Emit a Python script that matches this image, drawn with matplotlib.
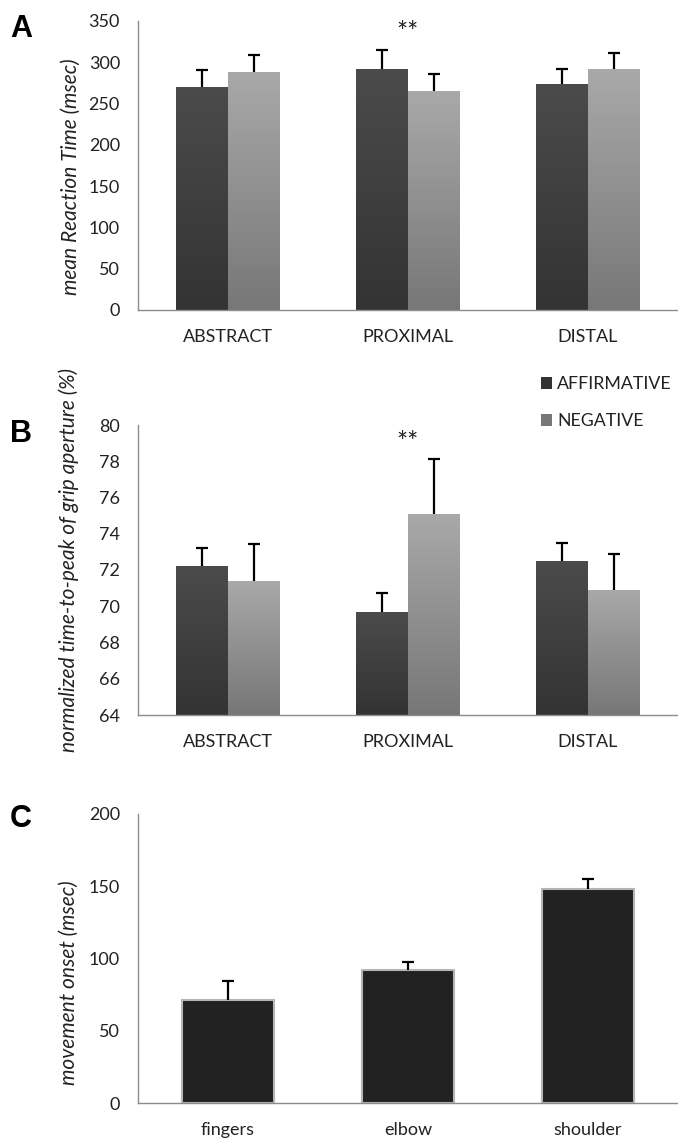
import numpy as np
import matplotlib
matplotlib.use("Agg")
import matplotlib.pyplot as plt
from matplotlib.colors import LinearSegmentedColormap
from matplotlib.patches import Patch

# ---------------- data ----------------
conditions = ["ABSTRACT", "PROXIMAL", "DISTAL"]
series_names = ["AFFIRMATIVE", "NEGATIVE"]

rt_aff = [270, 291, 273]
rt_aff_err = [20, 23, 18]
rt_neg = [288, 265, 291]
rt_neg_err = [21, 21, 20]

grip_aff = [72.2, 69.7, 72.5]
grip_aff_err = [1.03, 1.02, 1.0]
grip_neg = [71.4, 75.1, 70.9]
grip_neg_err = [2.04, 3.05, 2.0]

joints = ["fingers", "elbow", "shoulder"]
onset = [71.5, 92.2, 148.2]
onset_err = [12.7, 5.3, 6.7]

rt_ticks = [0, 50, 100, 150, 200, 250, 300, 350]
grip_ticks = [64, 66, 68, 70, 72, 74, 76, 78, 80]
onset_ticks = [0, 50, 100, 150, 200]

# ---------------- style ----------------
FONT = "Lato"
plt.rcParams["font.family"] = [FONT, "DejaVu Sans"]
TXT = "#222222"
AX_COL = "#8c8c8c"

AFF_TOP, AFF_BOT = "#4b4b4b", "#333333"
NEG_TOP, NEG_BOT = "#a9a9a9", "#777777"

W, H = 678, 1140
fig = plt.figure(figsize=(W / 100, H / 100), dpi=100)


def fx(px):
    return px / W


def fy(px):
    return 1 - px / H


def make_axes(top_px, bot_px):
    ax = fig.add_axes([fx(138), fy(bot_px), 1 - fx(138), (bot_px - top_px) / H])
    for s in ("top", "right"):
        ax.spines[s].set_visible(False)
    for s in ("left", "bottom"):
        ax.spines[s].set_color(AX_COL)
        ax.spines[s].set_linewidth(1.0)
    ax.tick_params(axis="both", length=0, labelsize=13, colors=TXT)
    ax.tick_params(axis="y", pad=13)
    ax.tick_params(axis="x", pad=14)
    ax.set_xlim(-0.5, 2.5)
    return ax


def gradient_fill(ax, bars, top_c, bot_c):
    cmap = LinearSegmentedColormap.from_list("g", [bot_c, top_c])
    ymin = ax.get_ylim()[0]
    grad = np.linspace(0, 1, 256).reshape(-1, 1)
    for b in bars:
        x0 = b.get_x()
        x1 = x0 + b.get_width()
        y0 = max(b.get_y(), ymin)
        y1 = b.get_y() + b.get_height()
        im = ax.imshow(grad, cmap=cmap, origin="lower", aspect="auto",
                       extent=[x0, x1, y0, y1], zorder=2, interpolation="bicubic")
        im.set_clip_path(b)
        b.set_facecolor("none")


def upper_err(ax, x, vals, errs):
    _, caps, _ = ax.errorbar(x, vals, yerr=[np.zeros(len(vals)), errs], fmt="none",
                             ecolor="black", elinewidth=1.6, capsize=4,
                             capthick=1.6, zorder=3)
    # hide the lower caps (zero-length lower error)
    caps[0].set_visible(False)


def grouped(ax, aff, aff_err, neg, neg_err, ylim, ticks):
    ax.set_ylim(*ylim)
    x = np.arange(len(conditions))
    w = 0.287
    b1 = ax.bar(x - w / 2, aff, w, color=AFF_TOP, linewidth=0, zorder=2,
                label=series_names[0])
    b2 = ax.bar(x + w / 2, neg, w, color=NEG_TOP, linewidth=0, zorder=2,
                label=series_names[1])
    gradient_fill(ax, b1, AFF_TOP, AFF_BOT)
    gradient_fill(ax, b2, NEG_TOP, NEG_BOT)
    upper_err(ax, x - w / 2, aff, aff_err)
    upper_err(ax, x + w / 2, neg, neg_err)
    ax.set_ylim(*ylim)
    ax.set_yticks(ticks)
    ax.set_xticks(x)
    ax.set_xticklabels(conditions)
    return b1, b2


# ---------------- Panel A ----------------
axA = make_axes(20.7, 310)
grouped(axA, rt_aff, rt_aff_err, rt_neg, rt_neg_err, (0, 350), rt_ticks)
axA.text(1, 334, "**", ha="center", va="center", fontsize=19, color=TXT)
fig.text(fx(71), fy(177), "mean Reaction Time (msec)", rotation=90,
         ha="center", va="center", fontsize=15, style="italic", color=TXT)
fig.text(fx(10), fy(37), "A", fontsize=22, fontweight="bold",
         family="Liberation Sans", color="black", ha="left", va="baseline")

# ---------------- Panel B ----------------
axB = make_axes(425, 715)
grouped(axB, grip_aff, grip_aff_err, grip_neg, grip_neg_err, (64, 80), grip_ticks)
axB.text(1, 79.0, "**", ha="center", va="center", fontsize=19, color=TXT)
fig.text(fx(69), fy(560), "normalized time-to-peak of grip aperture (%)",
         rotation=90, ha="center", va="center", fontsize=15, style="italic",
         color=TXT)
fig.text(fx(10), fy(442), "B", fontsize=22, fontweight="bold",
         family="Liberation Sans", color="black", ha="left", va="baseline")

handles = [Patch(facecolor=AFF_BOT, edgecolor="none"),
           Patch(facecolor=NEG_BOT, edgecolor="none")]
leg = fig.legend(handles, series_names, loc="upper left",
                 bbox_to_anchor=(fx(541), fy(376)), frameon=False,
                 fontsize=12.8, handlelength=0.62, handleheight=0.62,
                 handletextpad=0.28, labelspacing=1.2, borderpad=0,
                 borderaxespad=0)
for t in leg.get_texts():
    t.set_color(TXT)

# ---------------- Panel C ----------------
axC = make_axes(814, 1103)
axC.set_ylim(0, 200)
xc = np.arange(len(joints))
axC.bar(xc, onset, 0.51, color="#222222", edgecolor="#b5b5b5", linewidth=1.5,
        zorder=2)
upper_err(axC, xc, onset, onset_err)
axC.set_yticks(onset_ticks)
axC.set_xticks(xc)
axC.set_xticklabels(joints)
fig.text(fx(69), fy(983), "movement onset (msec)", rotation=90,
         ha="center", va="center", fontsize=15, style="italic", color=TXT)
fig.text(fx(10), fy(827), "C", fontsize=22, fontweight="bold",
         family="Liberation Sans", color="black", ha="left", va="baseline")

fig.savefig("out.png", dpi=100)
